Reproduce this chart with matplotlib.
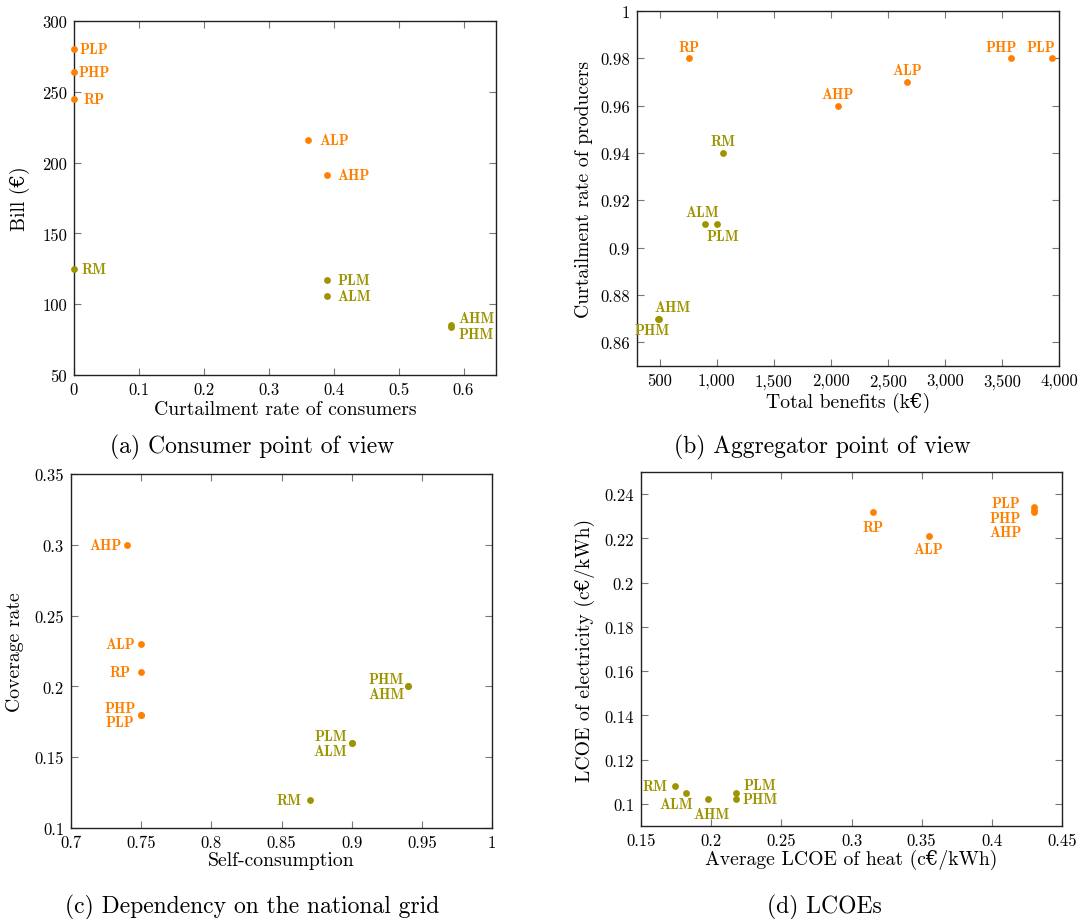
import matplotlib
matplotlib.use("Agg")
import matplotlib.pyplot as plt
from matplotlib.ticker import FuncFormatter, MultipleLocator

# ---------------- data ----------------
ORANGE = "#ff8000"
OLIVE = "#9c9400"

# (a) Consumer point of view
a_labels = ["PLP", "PHP", "RP", "ALP", "AHP", "RM", "PLM", "ALM", "AHM", "PHM"]
a_curtail = [0.0, 0.0, 0.0, 0.36, 0.39, 0.0, 0.39, 0.39, 0.58, 0.58]
a_bill = [280, 264, 245, 216, 191, 125, 117, 106, 85, 84]

# (b) Aggregator point of view
b_labels = ["RP", "PHP", "PLP", "ALP", "AHP", "RM", "ALM", "PLM", "AHM", "PHM"]
b_benefits = [760, 3580, 3940, 2670, 2060, 1050, 900, 1000, 490, 480]
b_curtail = [0.98, 0.98, 0.98, 0.97, 0.96, 0.94, 0.91, 0.91, 0.87, 0.87]

# (c) Dependency on the national grid
c_labels = ["AHP", "ALP", "RP", "PHP", "PLP", "PHM", "AHM", "PLM", "ALM", "RM"]
c_selfcons = [0.74, 0.75, 0.75, 0.75, 0.75, 0.94, 0.94, 0.90, 0.90, 0.87]
c_coverage = [0.30, 0.23, 0.21, 0.18, 0.18, 0.20, 0.20, 0.16, 0.16, 0.12]

# (d) LCOEs
d_labels = ["RP", "ALP", "PLP", "PHP", "AHP", "RM", "ALM", "AHM", "PLM", "PHM"]
d_heat = [0.315, 0.355, 0.43, 0.43, 0.43, 0.174, 0.182, 0.198, 0.218, 0.218]
d_elec = [0.232, 0.221, 0.234, 0.233, 0.232, 0.108, 0.105, 0.102, 0.105, 0.102]

# ---------------- label placement (pixels: dx, dy-up, ha) ----------------
a_place = {"PLP": (5, 0, "left"), "PHP": (4, 0, "left"), "RP": (9, 0, "left"),
           "ALP": (12, 0, "left"), "AHP": (10, 0, "left"), "RM": (7, 0, "left"),
           "PLM": (10, 0, "left"), "ALM": (10, 0, "left"),
           "AHM": (8, 7, "left"), "PHM": (8, -7, "left")}
b_place = {"RP": (0, 11, "center"), "PHP": (-10, 11, "center"), "PLP": (-11, 11, "center"),
           "ALP": (0, 12, "center"), "AHP": (0, 12, "center"), "RM": (0, 12, "center"),
           "ALM": (-3, 12, "center"), "PLM": (6, -12, "center"),
           "AHM": (14, 12, "center"), "PHM": (-5, -11, "center")}
c_place = {"AHP": (-5, 0, "right"), "ALP": (-6, 0, "right"), "RP": (-11, 0, "right"),
           "PHP": (-5, 7, "right"), "PLP": (-7, -7, "right"),
           "PHM": (-4, 7, "right"), "AHM": (-3, -8, "right"),
           "PLM": (-5, 7, "right"), "ALM": (-5, -8, "right"), "RM": (-8, 0, "right")}
d_place = {"RP": (0, -15, "center"), "ALP": (0, -13, "center"),
           "PLP": (-14, 4, "right"), "PHP": (-13, -8, "right"), "AHP": (-12, -20, "right"),
           "RM": (-7, 0, "right"), "ALM": (-10, -11, "center"), "AHM": (3, -15, "center"),
           "PLM": (7, 8, "left"), "PHM": (6, 0, "left")}

# ---------------- style ----------------
plt.rcParams["font.family"] = ["cmr10", "DejaVu Serif"]
plt.rcParams["axes.formatter.use_mathtext"] = True
plt.rcParams["mathtext.fontset"] = "cm"

W, H = 1083, 920
fig = plt.figure(figsize=(W / 100, H / 100), dpi=100)


def add_axes(left, top, right, bottom):
    return fig.add_axes([left / W, 1 - bottom / H, (right - left) / W, (bottom - top) / H])


def fmt_g(v, pos):
    return f"{round(v, 6):g}"


def fmt_comma(v, pos):
    return f"{int(round(v)):,}"


def style(ax):
    ax.tick_params(direction="in", length=5, width=0.8, color="#777777",
                   top=True, right=True, labelsize=12, pad=5)
    for s in ax.spines.values():
        s.set_linewidth(1.0)
        s.set_color("#222222")
    ax.xaxis.set_major_formatter(FuncFormatter(fmt_g))
    ax.yaxis.set_major_formatter(FuncFormatter(fmt_g))


def draw(ax, labels, xs, ys, place):
    for lab, x, y in zip(labels, xs, ys):
        col = ORANGE if lab.endswith("P") else OLIVE
        ax.scatter([x], [y], s=24, color=col, zorder=3, clip_on=False, linewidths=0)
        dx, dy, ha = place[lab]
        ax.annotate(lab, (x, y), xytext=(dx, dy), textcoords="offset pixels",
                    ha=ha, va="center", color=col, fontsize=10.5,
                    family=["cmb10", "DejaVu Serif"], zorder=4)


def labels(ax, xl, yl, xly, ylx):
    ax.set_xlabel(xl, fontsize=14.2, va="center")
    ax.set_ylabel(yl, fontsize=14.2, va="center")
    ax.xaxis.set_label_coords(0.5, xly)
    ax.yaxis.set_label_coords(ylx, 0.5)


# (a)
ax = add_axes(74, 22, 496, 376)
style(ax)
draw(ax, a_labels, a_curtail, a_bill, a_place)
ax.set_xlim(0, 0.65)
ax.set_ylim(50, 300)
ax.xaxis.set_major_locator(MultipleLocator(0.1))
ax.yaxis.set_major_locator(MultipleLocator(50))
labels(ax, "Curtailment rate of consumers", "Bill (€)", -0.095, -0.128)
fig.text(252 / W, 1 - 447 / H, "(a) Consumer point of view", ha="center", va="center", fontsize=17)

# (b)
ax = add_axes(637, 12, 1059, 367)
style(ax)
draw(ax, b_labels, b_benefits, b_curtail, b_place)
ax.set_xlim(300, 4000)
ax.set_ylim(0.85, 1.0)
ax.xaxis.set_major_locator(MultipleLocator(500))
ax.yaxis.set_major_locator(MultipleLocator(0.02))
ax.xaxis.set_major_formatter(FuncFormatter(fmt_comma))
labels(ax, "Total benefits (k€)", "Curtailment rate of producers", -0.1, -0.125)
fig.text(822 / W, 1 - 447 / H, "(b) Aggregator point of view", ha="center", va="center", fontsize=17)

# (c)
ax = add_axes(71, 475, 492, 829)
style(ax)
draw(ax, c_labels, c_selfcons, c_coverage, c_place)
ax.set_xlim(0.7, 1.0)
ax.set_ylim(0.1, 0.35)
ax.xaxis.set_major_locator(MultipleLocator(0.05))
ax.yaxis.set_major_locator(MultipleLocator(0.05))
labels(ax, "Self-consumption", "Coverage rate", -0.09, -0.133)
fig.text(252 / W, 1 - 907 / H, "(c) Dependency on the national grid", ha="center", va="center", fontsize=17)

# (d)
ax = add_axes(641, 473, 1062, 827)
style(ax)
draw(ax, d_labels, d_heat, d_elec, d_place)
ax.set_xlim(0.15, 0.45)
ax.set_ylim(0.09, 0.25)
ax.xaxis.set_major_locator(MultipleLocator(0.05))
ax.set_yticks([0.10, 0.12, 0.14, 0.16, 0.18, 0.20, 0.22, 0.24])
labels(ax, "Average LCOE of heat (c€/kWh)", "LCOE of electricity (c€/kWh)", -0.092, -0.133)
fig.text(824 / W, 1 - 907 / H, "(d) LCOEs", ha="center", va="center", fontsize=17)

fig.savefig("out.png", dpi=100)
